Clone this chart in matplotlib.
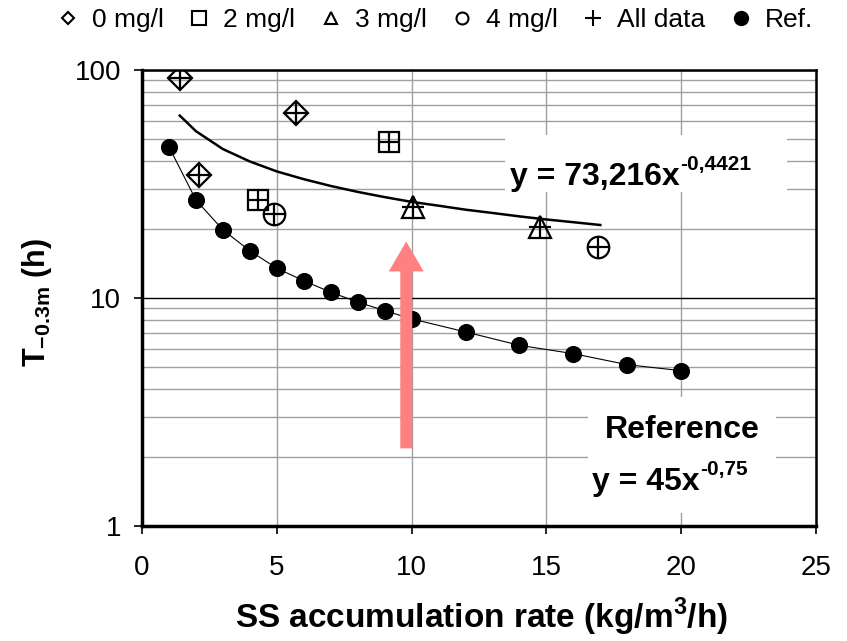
import numpy as np
import matplotlib
matplotlib.use("Agg")
import matplotlib.pyplot as plt
from matplotlib.lines import Line2D
from matplotlib.patches import Rectangle

plt.rcParams['font.family'] = ['Liberation Sans', 'DejaVu Sans']
plt.rcParams['mathtext.fontset'] = 'custom'
plt.rcParams['mathtext.rm'] = 'Liberation Sans'
plt.rcParams['mathtext.bf'] = 'Liberation Sans:bold'

# data
x0 = [1.4, 5.7, 2.1]
y0 = [92, 65, 34.6]
x2 = [4.3, 9.15]
y2 = [26.9, 48.5]
x3 = [10.05, 14.75]
y3 = [25.0, 20.4]
x4 = [4.9, 16.9]
y4 = [23.3, 16.8]
xAll = x0 + x2 + x3 + x4
yAll = y0 + y2 + y3 + y4

xRef = [1, 2, 3, 4, 5, 6, 7, 8, 9, 10, 12, 14, 16, 18, 20]
yRef = [46, 26.9, 19.9, 16.1, 13.5, 11.9, 10.6, 9.6, 8.8, 8.1, 7.1, 6.2, 5.7, 5.1, 4.8]

# trend line of all data
xTrend = [1.4, 2, 3, 4, 5, 6, 7, 8, 9, 10, 11, 12, 13, 14, 15, 16, 17]
yTrend = [63.1, 53.9, 45.0, 39.7, 35.9, 33.2, 31.0, 29.2, 27.7, 26.4, 25.4, 24.4, 23.6, 22.8, 22.1, 21.5, 20.9]

arrowX = 9.8
arrowFrom = 2.19
arrowTo = 17.7

fig = plt.figure(figsize=(8.47, 6.41), dpi=100)
ax = fig.add_axes([0.1677, 0.1794, 0.7957, 0.7114])
ax.set_yscale('log')
ax.set_xlim(0, 25)
ax.set_ylim(1, 100)

ax.grid(True, which='minor', axis='y', color='#a0a0a0', lw=1)
ax.grid(True, which='major', axis='y', color='black', lw=1)
ax.grid(True, which='major', axis='x', color='#a0a0a0', lw=1)
ax.set_axisbelow(True)

ax.plot(xTrend, yTrend, color='black', lw=1.8, zorder=3)
ax.plot(xRef, yRef, color='black', lw=0.8, zorder=3)

mk = dict(linestyle='none', markerfacecolor='none', markeredgecolor='black', markeredgewidth=1.6, zorder=4)
ax.plot(x0, y0, marker='D', markersize=12, **mk)
ax.plot(x2, y2, marker='s', markersize=14, **mk)
ax.plot(x3, y3, marker='^', markersize=16.5, **mk)
ax.plot(x4, y4, marker='o', markersize=15.5, **mk)
ax.plot(xAll, yAll, marker='+', markersize=16, linestyle='none', color='black', markeredgewidth=1.6, zorder=5)
ax.plot(xRef, yRef, marker='o', markersize=11.3, linestyle='none', color='black', zorder=5)

ax.annotate('', xy=(arrowX, arrowTo), xytext=(arrowX, arrowFrom),
            arrowprops=dict(arrowstyle='simple,head_length=2.16,head_width=2.52,tail_width=0.86',
                            mutation_scale=10, color='#ff8080', lw=0, shrinkA=0, shrinkB=0), zorder=6)

# equation boxes
ax.add_patch(Rectangle((0.5386, 0.732), 0.4184, 0.125, transform=ax.transAxes,
                       facecolor='white', edgecolor='none', zorder=7))
ax.add_patch(Rectangle((0.6617, 0.0285), 0.279, 0.2545, transform=ax.transAxes,
                       facecolor='white', edgecolor='none', zorder=7))

eq1 = ax.text(0.546, 0.748, 'y = 73,216x', transform=ax.transAxes, fontsize=23,
              fontweight='bold', ha='left', va='baseline', zorder=8)
ax.annotate('-0,4421', xy=(1, 1), xycoords=eq1, xytext=(0, 5), textcoords='offset points',
            fontsize=15, fontweight='bold', ha='left', va='top', zorder=8)
ax.text(0.801, 0.193, 'Reference', transform=ax.transAxes, fontsize=23,
        fontweight='bold', ha='center', va='baseline', zorder=8)
eq2 = ax.text(0.668, 0.079, 'y = 45x', transform=ax.transAxes, fontsize=23,
              fontweight='bold', ha='left', va='baseline', zorder=8)
ax.annotate('-0,75', xy=(1, 1), xycoords=eq2, xytext=(0, 5), textcoords='offset points',
            fontsize=15, fontweight='bold', ha='left', va='top', zorder=8)

ax.set_xticks([0, 5, 10, 15, 20, 25])
ax.set_yticks([1, 10, 100])
ax.set_yticklabels(['1', '10', '100'])
ax.yaxis.set_minor_formatter(plt.NullFormatter())
ax.tick_params(axis='both', which='major', labelsize=20, direction='out', length=6, width=1.2, color='black')
ax.tick_params(axis='x', which='major', pad=15)
ax.tick_params(axis='y', which='major', pad=9)
ax.tick_params(axis='y', which='minor', length=0)
for s in ax.spines.values():
    s.set_linewidth(1.8)
ax.spines['left'].set_linewidth(2.5)
ax.spines['bottom'].set_linewidth(2.5)

ax.set_xlabel('SS accumulation rate (kg/m$^{\\mathbf{3}}$/h)', fontsize=24, fontweight='bold', va='baseline')
ax.xaxis.set_label_coords(0.503, -0.2237)
ax.set_ylabel('T$_{\\mathbf{-0.3m}}$ (h)', fontsize=22, fontweight='bold', va='center')
ax.yaxis.set_label_coords(-0.156, 0.49)

handles = [
    Line2D([], [], marker='D', markersize=6.2, markerfacecolor='none', markeredgecolor='black', markeredgewidth=1.5, linestyle='none'),
    Line2D([], [], marker='s', markersize=9.5, markerfacecolor='none', markeredgecolor='black', markeredgewidth=1.5, linestyle='none'),
    Line2D([], [], marker='^', markersize=8.6, markerfacecolor='none', markeredgecolor='black', markeredgewidth=1.5, linestyle='none'),
    Line2D([], [], marker='o', markersize=8.6, markerfacecolor='none', markeredgecolor='black', markeredgewidth=1.5, linestyle='none'),
    Line2D([], [], marker='+', markersize=12, color='black', markeredgewidth=1.5, linestyle='none'),
    Line2D([], [], marker='o', markersize=10, color='black', linestyle='none'),
]
labels = ['0 mg/l', '2 mg/l', '3 mg/l', '4 mg/l', 'All data', 'Ref.']
fig.legend(handles, labels, loc='center left', bbox_to_anchor=(0.068, 0.969), ncol=6, frameon=False,
           fontsize=19, handlelength=0.8, handletextpad=0.5, columnspacing=0.95,
           borderpad=0, borderaxespad=0)

fig.savefig('out.png', dpi=100)
